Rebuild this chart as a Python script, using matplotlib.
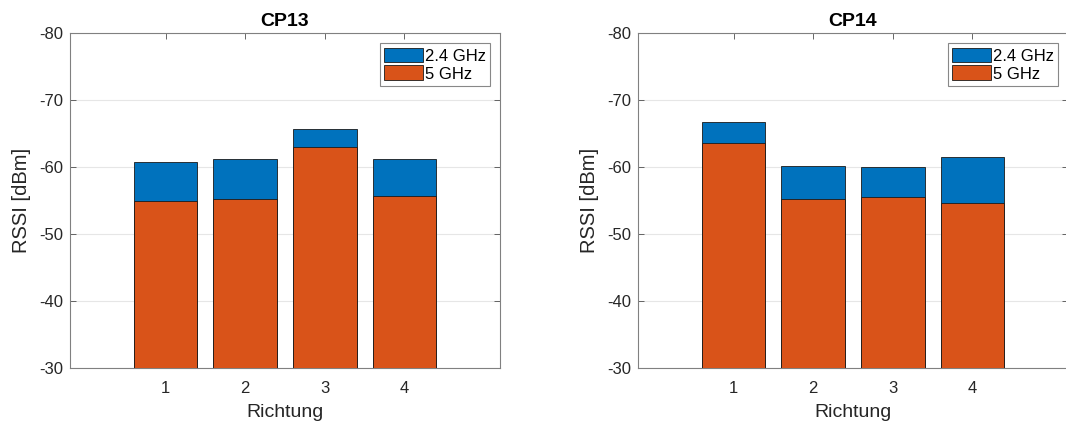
import numpy as np
import matplotlib
matplotlib.use("Agg")
import matplotlib.pyplot as plt

plt.rcParams['font.family'] = ['Liberation Sans', 'DejaVu Sans']
plt.rcParams['axes.unicode_minus'] = False

# data (RSSI in dBm)
richtung = [1, 2, 3, 4]
titles = ['CP13', 'CP14']
cp13_24 = [-60.8, -61.2, -65.7, -61.3]
cp13_5 = [-54.9, -55.2, -63.0, -55.7]
cp14_24 = [-66.8, -60.2, -60.1, -61.5]
cp14_5 = [-63.6, -55.2, -55.5, -54.6]
series_labels = ['2.4 GHz', '5 GHz']

blue = '#0072BD'
orange = '#D95319'
axcol = '#4d4d4d'

fig = plt.figure(figsize=(10.66, 4.30), dpi=100)
ax1 = fig.add_axes([0.0657, 0.144, 0.4034, 0.7783])
ax2 = fig.add_axes([0.5985, 0.144, 0.4034, 0.7783])

for ax, title, v24, v5 in [(ax1, titles[0], cp13_24, cp13_5),
                           (ax2, titles[1], cp14_24, cp14_5)]:
    ax.bar(richtung, v24, width=0.8, color=blue, edgecolor='#1a1a1a',
           linewidth=0.6, label=series_labels[0], zorder=2)
    ax.bar(richtung, v5, width=0.8, color=orange, edgecolor='#1a1a1a',
           linewidth=0.6, label=series_labels[1], zorder=3)
    ax.set_xlim(-0.2, 5.2)
    ax.set_ylim(-30, -80)
    ax.set_xticks(richtung)
    ax.set_yticks([-30, -40, -50, -60, -70, -80])
    ax.yaxis.grid(True, color='#e6e6e6', linewidth=0.8, zorder=0)
    ax.set_axisbelow(True)
    ax.tick_params(direction='in', top=True, right=True, labelsize=12,
                   colors=axcol, labelcolor='#262626', length=4, width=0.6)
    ax.tick_params(axis='x', pad=9)
    ax.tick_params(axis='y', pad=5)
    for s in ax.spines.values():
        s.set_color('#808080')
        s.set_linewidth(0.8)
    ax.set_xlabel('Richtung', fontsize=14, color='#262626', labelpad=6)
    ax.set_ylabel('RSSI [dBm]', fontsize=14.5, color='#262626', labelpad=6)
    ax.set_title(title, fontsize=14, fontweight='bold', pad=5)
    leg = ax.legend(loc='upper right', fontsize=12, handlelength=2.35,
                    handleheight=1.0, handletextpad=0.1, labelspacing=0.1,
                    borderpad=0.25, borderaxespad=0.6, fancybox=False,
                    framealpha=1)
    leg.get_frame().set_edgecolor('#888888')
    leg.get_frame().set_linewidth(0.8)

fig.savefig('out.png', dpi=100)
